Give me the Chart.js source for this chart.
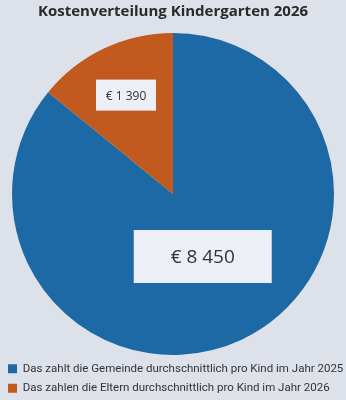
<!DOCTYPE html>
<html>
<head>
<meta charset="utf-8">
<script src="https://cdn.jsdelivr.net/npm/chart.js@4"></script>
<style>
  html, body { margin: 0; padding: 0; background: #dde1ea; overflow: hidden; }
  #wrap { width: 346px; height: 400px; overflow: hidden; }
</style>
</head>
<body>
<div id="wrap"><canvas id="kosten" width="346" height="404"></canvas></div>
<script>
// Daten
const categories = [
    'Das zahlt die Gemeinde durchschnittlich pro Kind im Jahr 2025',
    'Das zahlen die Eltern durchschnittlich pro Kind im Jahr 2026'
];
const amounts = [8450, 1390];
const valueLabels = ['€ 8 450', '€ 1 390'];

const sliceColors = ['#1d69a6', '#c2591f'];

// Beschriftungen in weißen Kästchen
const boxLabels = {
    id: 'boxLabels',
    afterDatasetsDraw(chart, args, opts) {
        const ctx = chart.ctx;
        const meta = chart.getDatasetMeta(0);
        meta.data.forEach((arc, i) => {
            const p = arc.getProps(['x', 'y', 'startAngle', 'endAngle', 'outerRadius'], true);
            const mid = (p.startAngle + p.endAngle) / 2;
            const r = p.outerRadius * opts.dist[i];
            const cx = p.x + Math.cos(mid) * r;
            const cy = p.y + Math.sin(mid) * r;
            const w = opts.boxW[i], h = opts.boxH[i];
            ctx.save();
            ctx.fillStyle = '#eceff5';
            ctx.fillRect(cx - w / 2, cy - h / 2, w, h);
            ctx.fillStyle = '#333';
            ctx.font = opts.fontSize[i] + 'px "Open Sans", sans-serif';
            ctx.textAlign = 'center';
            ctx.textBaseline = 'middle';
            ctx.fillText(valueLabels[i], cx, cy + 1);
            ctx.restore();
        });
    }
};

new Chart(document.getElementById('kosten'), {
    type: 'pie',
    data: {
        labels: categories,
        datasets: [{
            data: amounts,
            backgroundColor: sliceColors,
            borderWidth: 0
        }]
    },
    options: {
        responsive: false,
        animation: false,
        layout: { padding: 0 },
        plugins: {
            title: {
                display: true,
                text: 'Kostenverteilung Kindergarten 2026',
                color: '#2a2a2a',
                font: { family: 'Open Sans', size: 15, weight: 'bold' },
                padding: { top: 3, bottom: 12 }
            },
            legend: {
                position: 'bottom',
                align: 'start',
                labels: {
                    boxWidth: 9,
                    boxHeight: 9,
                    padding: 8,
                    color: '#333',
                    font: { family: 'Roboto', size: 11.5 }
                }
            },
            tooltip: { enabled: false },
            boxLabels: {
                dist: [0.43, 0.68],
                boxW: [138, 60],
                boxH: [53, 31],
                fontSize: [19, 12]
            }
        }
    },
    plugins: [boxLabels]
});
</script>
</body>
</html>
